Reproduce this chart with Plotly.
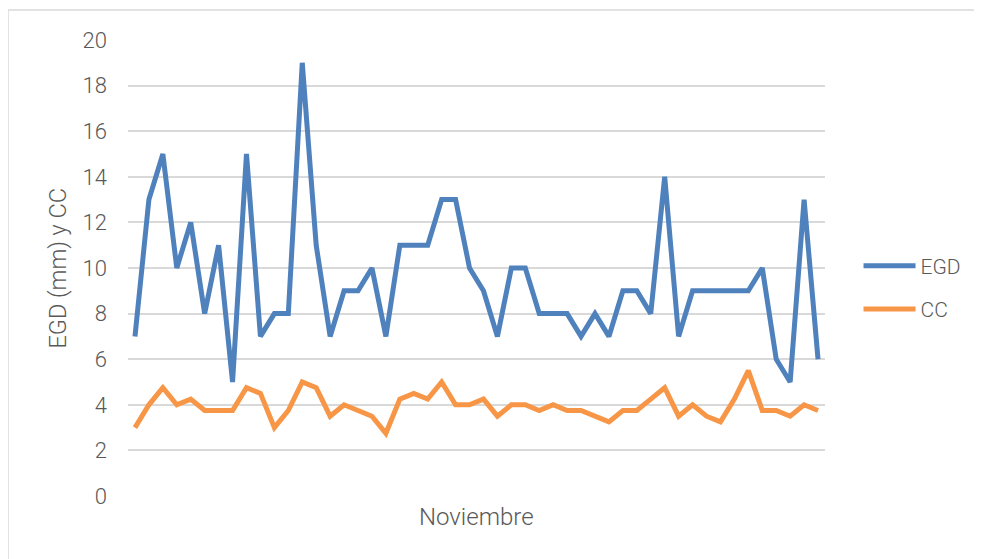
import plotly.graph_objects as go

# Datos (50 registros de noviembre)
dias = list(range(1, 51))
egd = [7, 13, 15, 10, 12, 8, 11, 5, 15, 7,
       8, 8, 19, 11, 7, 9, 9, 10, 7, 11,
       11, 11, 13, 13, 10, 9, 7, 10, 10, 8,
       8, 8, 7, 8, 7, 9, 9, 8, 14, 7,
       9, 9, 9, 9, 9, 10, 6, 5, 13, 6]
cc = [3.0, 4.0, 4.75, 4.0, 4.25, 3.75, 3.75, 3.75, 4.75, 4.5,
      3.0, 3.75, 5.0, 4.75, 3.5, 4.0, 3.75, 3.5, 2.75, 4.25,
      4.5, 4.25, 5.0, 4.0, 4.0, 4.25, 3.5, 4.0, 4.0, 3.75,
      4.0, 3.75, 3.75, 3.5, 3.25, 3.75, 3.75, 4.25, 4.75, 3.5,
      4.0, 3.5, 3.25, 4.25, 5.5, 3.75, 3.75, 3.5, 4.0, 3.75]
y_ticks = [0, 2, 4, 6, 8, 10, 12, 14, 16, 18, 20]

COLOR_EGD = "#4F81BD"
COLOR_CC = "#F79646"
TEXT = "#595959"
FONT = "Roboto"

fig = go.Figure()
fig.add_trace(go.Scatter(
    x=dias, y=egd, mode="lines", name="EGD", legendgroup="a",
    line=dict(color=COLOR_EGD, width=5),
))
fig.add_trace(go.Scatter(
    x=dias, y=cc, mode="lines", name="CC", legendgroup="b",
    line=dict(color=COLOR_CC, width=5),
))

# borde exterior del gráfico (solo arriba e izquierda visibles)
fig.add_shape(type="rect", xref="paper", yref="paper",
              x0=-0.1722, x1=1.3, y0=-0.2, y1=1.066,
              line=dict(color="#d9d9d9", width=1.5), layer="below")

# títulos de los ejes
fig.add_annotation(text="EGD (mm) y CC", xref="paper", yref="paper",
                   x=-0.1011, y=0.5, xanchor="center", yanchor="middle",
                   textangle=-90, showarrow=False,
                   font=dict(family=FONT, size=23.5, color=TEXT, weight=300))
fig.add_annotation(text="Noviembre", xref="paper", yref="paper",
                   x=0.5, y=-0.0471, xanchor="center", yanchor="middle",
                   showarrow=False,
                   font=dict(family=FONT, size=24, color=TEXT, weight=300))

fig.update_layout(
    width=982, height=559,
    margin=dict(l=120, r=165, t=32, b=71),
    paper_bgcolor="white", plot_bgcolor="white",
    font=dict(family=FONT, size=21, color=TEXT, weight=300),
    showlegend=True,
    legend=dict(x=1.0481, y=0.457, xanchor="left", yanchor="middle",
                tracegroupgap=13, itemwidth=52,
                font=dict(family=FONT, size=21, color=TEXT, weight=300)),
)
fig.update_xaxes(
    range=[0.5, 50.5], showticklabels=False, showgrid=False,
    zeroline=False, showline=False, ticks="",
)
fig.update_yaxes(
    range=[0, 20], tickvals=y_ticks, showgrid=True,
    gridcolor="#d9d9d9", gridwidth=1.5, zeroline=False,
    ticks="", ticklabelstandoff=20,
    tickfont=dict(family=FONT, size=22, color=TEXT, weight=300),
)

fig.write_html("out.html")
